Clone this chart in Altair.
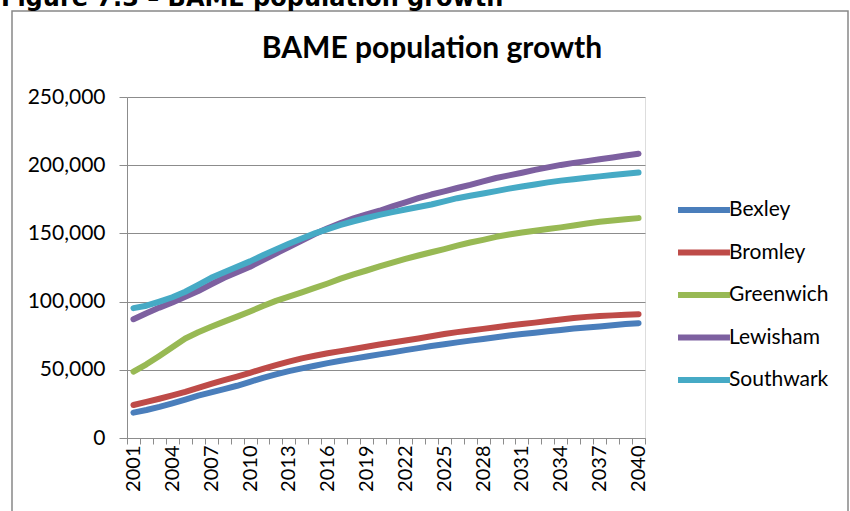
import altair as alt
import pandas as pd

years = list(range(2001, 2041))

boroughs = ["Bexley", "Bromley", "Greenwich", "Lewisham", "Southwark"]
colors = ["#4A7EBB", "#BE4B48", "#98B954", "#7D60A0", "#46AAC5"]

bexley = [18600, 20500, 22800, 25400, 28200, 31000, 33400, 35800, 38300, 41200,
          44100, 46700, 49000, 51000, 53000, 54900, 56600, 58200, 59800, 61300,
          62800, 64400, 65900, 67500, 68800, 70100, 71400, 72600, 73800, 75200,
          76200, 77200, 78200, 79200, 80200, 81000, 81800, 82700, 83500, 84200]
bromley = [24200, 26500, 28800, 31200, 33800, 36800, 39700, 42400, 45000, 47800,
           50700, 53400, 56000, 58400, 60300, 62100, 63700, 65300, 66900, 68500,
           70000, 71500, 73000, 74600, 76200, 77600, 78800, 80000, 81200, 82500,
           83500, 84600, 85700, 86800, 87900, 88800, 89400, 89900, 90400, 90800]
greenwich = [48700, 54000, 60200, 66500, 73000, 77500, 81500, 85300, 89000, 92800,
             96800, 100500, 103600, 106800, 110000, 113300, 116800, 120000, 122800, 125800,
             128600, 131300, 133800, 136200, 138500, 141000, 143300, 145300, 147500, 149200,
             150600, 152000, 153200, 154400, 155800, 157200, 158500, 159500, 160400, 161200]
lewisham = [87100, 91500, 95600, 99300, 103500, 107800, 112700, 117500, 121600, 125500,
            130500, 135300, 140000, 144800, 149500, 153800, 157600, 161000, 164000, 166600,
            169800, 172800, 175800, 178500, 180800, 183300, 185600, 188200, 190600, 192500,
            194500, 196600, 198400, 200200, 201700, 203000, 204300, 205700, 207100, 208400]
southwark = [95200, 97000, 100000, 103200, 107200, 112200, 117400, 121500, 125500, 129500,
             134000, 138300, 142400, 146300, 150000, 153200, 156200, 158900, 161300, 163600,
             165600, 167500, 169400, 171200, 173500, 175800, 177600, 179300, 181000, 182800,
             184400, 185900, 187400, 188700, 189700, 190800, 191800, 192800, 193800, 194700]

y_ticks = [0, 50000, 100000, 150000, 200000, 250000]

rows = []
for name, vals in zip(boroughs, [bexley, bromley, greenwich, lewisham, southwark]):
    for yr, v in zip(years, vals):
        rows.append({"Year": yr, "Borough": name, "Population": v})
df = pd.DataFrame(rows)

FONT = "Lato"
GRID = "#8C8C8C"

lines = alt.Chart(df).mark_line(strokeWidth=6, strokeCap="round", strokeJoin="round").encode(
    x=alt.X("Year:O", bandPosition=0.5,
            scale=alt.Scale(type="band", paddingInner=0, paddingOuter=0),
            axis=alt.Axis(title=None, labelAngle=-90,
                          labelExpr="(datum.value - 2001) % 3 == 0 ? datum.label : ''",
                          labelOverlap=False, tickBand="extent", ticks=True, tickSize=6,
                          grid=False, domainColor=GRID, tickColor=GRID,
                          labelFontSize=20, labelFont=FONT, labelColor="#000000",
                          labelPadding=1)),
    y=alt.Y("Population:Q", scale=alt.Scale(domain=[0, 250000], nice=False),
            axis=alt.Axis(title=None, values=y_ticks, format=",.0f", grid=True,
                          gridColor=GRID, gridWidth=1, domainColor=GRID, tickColor=GRID,
                          tickSize=8, labelFontSize=21, labelFont=FONT,
                          labelColor="#000000", labelPadding=14)),
    color=alt.Color("Borough:N", scale=alt.Scale(domain=boroughs, range=colors),
                    legend=alt.Legend(title=None, orient="none", legendX=548, legendY=84,
                                      symbolType="stroke", symbolSize=2700,
                                      symbolStrokeWidth=6, labelFontSize=21,
                                      labelFont=FONT, labelColor="#000000",
                                      labelOffset={"expr": "-4"}, padding=0, rowPadding=1.5)),
)

one = pd.DataFrame({"a": [0]})

border = alt.Chart(one).mark_rect(fill=None, stroke="#888888", strokeWidth=1.5).encode(
    x=alt.value(-115), x2=alt.value(721), y=alt.value(-86), y2=alt.value(440))

caption = alt.Chart(one).mark_text(text="Figure 7.3 \u2013 BAME population growth",
                                   font="DejaVu Sans", fontSize=24, fontWeight="bold",
                                   align="left", baseline="alphabetic", color="#000000").encode(
    x=alt.value(-126), y=alt.value(-91))

title = alt.Chart(one).mark_text(text="BAME population growth",
                                 font=FONT, fontSize=30, fontWeight="bold",
                                 align="center", baseline="alphabetic", color="#000000").encode(
    x=alt.value(305), y=alt.value(-39))

chart = alt.layer(border, lines, caption, title).properties(
    width=518, height=341,
    padding={"left": 127, "top": 97, "right": 205, "bottom": 73},
    autosize=alt.AutoSizeParams(type="none"),
).configure_view(stroke=None).configure(background="white")

chart.save("out.html", embed_options={"renderer": "svg", "actions": False})
